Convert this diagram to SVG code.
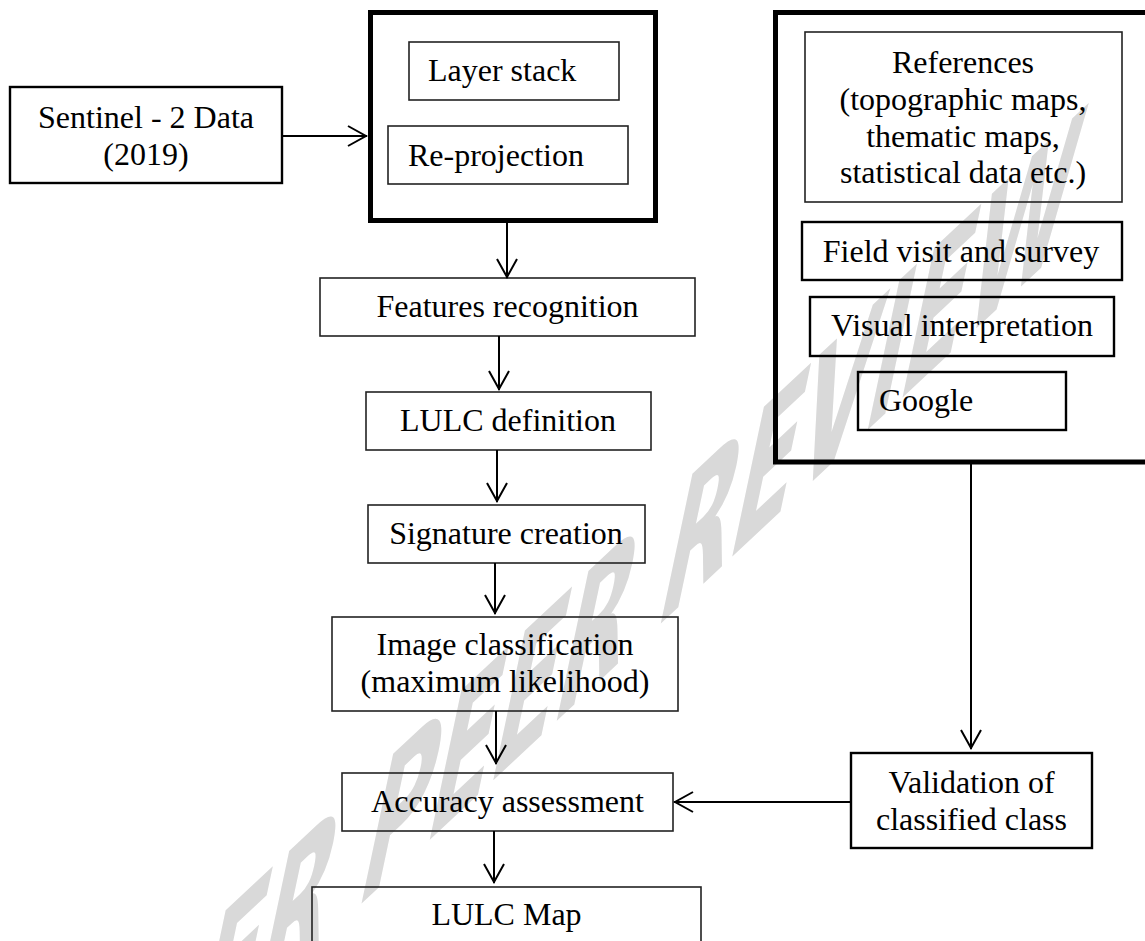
<svg xmlns="http://www.w3.org/2000/svg" width="1145" height="941" viewBox="0 0 1145 941">
<defs>
<style>
.t{font-family:"Liberation Serif","Times New Roman",serif;font-size:32px;fill:#000}
.c{text-anchor:middle}
.b{fill:none;stroke:#222;stroke-width:1.6}
.b2{fill:none;stroke:#000;stroke-width:2.4}
.k{fill:none;stroke:#000;stroke-width:5}
.ln{fill:none;stroke:#000;stroke-width:2;stroke-linecap:square}
.wm{font-family:"DejaVu Sans",sans-serif;font-size:150px;font-weight:bold;fill:#d9d9d9}
</style>
<marker id="ah" viewBox="-20 -11 22 22" refX="0" refY="0" markerWidth="22" markerHeight="22" markerUnits="userSpaceOnUse" orient="auto">
<path d="M-18,-10 L0,0 L-18,10" fill="none" stroke="#000" stroke-width="2"/>
</marker>
</defs>
<rect width="1145" height="941" fill="#fff"/>
<g id="watermark">
<text class="wm" text-anchor="end" transform="matrix(0.62,-0.58,-0.29,1.37,1060,250)">UNDER PEER REVIEW</text>
</g>
<g id="sentinel">
<rect class="b2" x="10" y="87" width="272" height="96"/>
<text class="t c" x="146" y="128">Sentinel - 2 Data</text>
<text class="t c" x="146" y="165">(2019)</text>
</g>
<g id="preprocessing">
<rect class="k" x="370.5" y="12.5" width="285" height="208"/>
<g id="layer-stack">
<rect class="b" x="409" y="42" width="210" height="58"/>
<text class="t" x="428" y="81">Layer stack</text>
</g>
<g id="re-projection">
<rect class="b" x="388" y="126" width="240" height="58"/>
<text class="t" x="408" y="166">Re-projection</text>
</g>
</g>
<g id="reference-data">
<rect class="k" x="775.5" y="12.5" width="380" height="449.5"/>
<g id="references">
<rect class="b" x="805" y="32" width="317" height="170"/>
<text class="t c" x="963" y="73">References</text>
<text class="t c" x="963" y="110">(topographic maps,</text>
<text class="t c" x="963" y="146.5">thematic maps,</text>
<text class="t c" x="963" y="183">statistical data etc.)</text>
</g>
<g id="field-visit">
<rect class="b2" x="802" y="222" width="320" height="58"/>
<text class="t c" x="961" y="262">Field visit and survey</text>
</g>
<g id="visual-interpretation">
<rect class="b2" x="810" y="297" width="304" height="59"/>
<text class="t c" x="962" y="336">Visual interpretation</text>
</g>
<g id="google">
<rect class="b2" x="858" y="372" width="208" height="58"/>
<text class="t" x="879" y="411">Google</text>
</g>
</g>
<g id="features-recognition">
<rect class="b" x="320" y="278" width="375" height="58"/>
<text class="t c" x="507.5" y="317">Features recognition</text>
</g>
<g id="lulc-definition">
<rect class="b" x="366" y="392" width="285" height="58"/>
<text class="t c" x="508" y="431">LULC definition</text>
</g>
<g id="signature-creation">
<rect class="b" x="368" y="505" width="277" height="58"/>
<text class="t c" x="506" y="544">Signature creation</text>
</g>
<g id="image-classification">
<rect class="b" x="332" y="617" width="346" height="94"/>
<text class="t c" x="505" y="655">Image classification</text>
<text class="t c" x="505" y="692">(maximum likelihood)</text>
</g>
<g id="accuracy-assessment">
<rect class="b" x="342" y="773" width="331" height="58"/>
<text class="t c" x="507.5" y="812">Accuracy assessment</text>
</g>
<g id="lulc-map">
<rect class="b" x="312" y="887" width="389" height="70"/>
<text class="t c" x="506.5" y="925">LULC Map</text>
</g>
<g id="validation">
<rect class="b2" x="851" y="753" width="241" height="95"/>
<text class="t c" x="971.5" y="793">Validation of</text>
<text class="t c" x="971.5" y="830">classified class</text>
</g>
<g id="connectors">
<line class="ln" x1="282" y1="136" x2="366" y2="136" marker-end="url(#ah)"/>
<line class="ln" x1="507" y1="223" x2="507" y2="277" marker-end="url(#ah)"/>
<line class="ln" x1="499" y1="337" x2="499" y2="389" marker-end="url(#ah)"/>
<line class="ln" x1="497" y1="451" x2="497" y2="501" marker-end="url(#ah)"/>
<line class="ln" x1="495" y1="564" x2="495" y2="613" marker-end="url(#ah)"/>
<line class="ln" x1="496" y1="712" x2="496" y2="763" marker-end="url(#ah)"/>
<line class="ln" x1="494" y1="832" x2="494" y2="882" marker-end="url(#ah)"/>
<line class="ln" x1="971" y1="464" x2="971" y2="748" marker-end="url(#ah)"/>
<line class="ln" x1="850" y1="802" x2="675" y2="802" marker-end="url(#ah)"/>
</g>
</svg>
